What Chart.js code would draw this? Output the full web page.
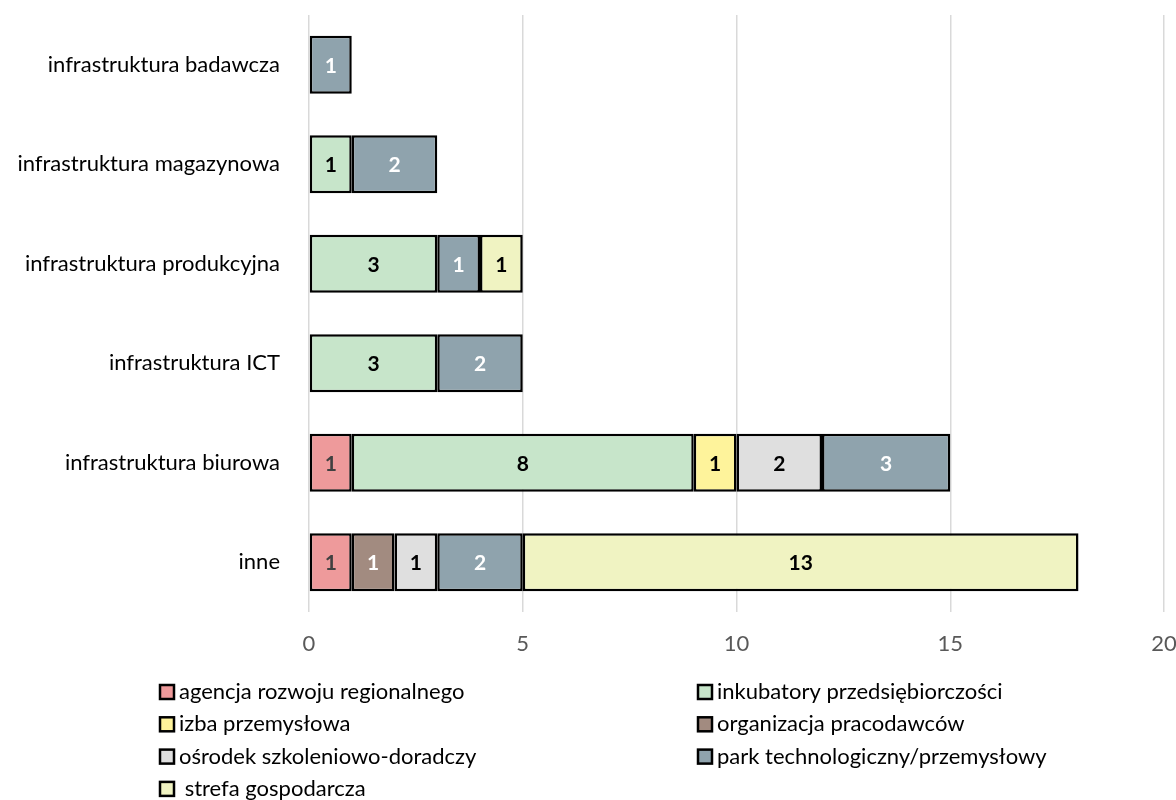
<!DOCTYPE html>
<html>
<head>
<meta charset="utf-8">
<script src="https://cdn.jsdelivr.net/npm/chart.js@4.4.1/dist/chart.umd.min.js"></script>
<style>
  html, body { margin: 0; padding: 0; background: #fff; }
  #wrap { width: 1176px; height: 800px; position: relative; }
</style>
</head>
<body>
<div id="wrap"><canvas id="chart"></canvas></div>
<script>
// categories, top to bottom
const categories = [
    'infrastruktura badawcza',
    'infrastruktura magazynowa',
    'infrastruktura produkcyjna',
    'infrastruktura ICT',
    'infrastruktura biurowa',
    'inne'
];

// series values (null = no segment)
const agencjaRozwoju   = [null, null, null, null, 1, 1];
const inkubatory       = [null, 1, 3, 3, 8, null];
const izbaPrzemyslowa  = [null, null, null, null, 1, null];
const orgPracodawcow   = [null, null, null, null, null, 1];
const osrodekSzkol     = [null, null, null, null, 2, 1];
const parkTechnolog    = [1, 2, 1, 2, 3, 2];
const strefaGosp       = [null, null, 1, null, null, 13];

const xTicks = [0, 5, 10, 15, 20];

const FONT = 'Lato';
const FONT_SIZE = 22;

const series = [
    { label: 'agencja rozwoju regionalnego',     data: agencjaRozwoju,  color: '#EE9A9B', text: '#404040' },
    { label: 'inkubatory przedsiębiorczości',    data: inkubatory,      color: '#C7E5CA', text: '#000000' },
    { label: 'izba przemysłowa',                 data: izbaPrzemyslowa, color: '#FEF39B', text: '#000000' },
    { label: 'organizacja pracodawców',          data: orgPracodawcow,  color: '#A28B80', text: '#ffffff' },
    { label: 'ośrodek szkoleniowo-doradczy',     data: osrodekSzkol,    color: '#DFDFDF', text: '#000000' },
    { label: 'park technologiczny/przemysłowy',  data: parkTechnolog,   color: '#8FA3AD', text: '#ffffff' },
    { label: ' strefa gospodarcza',              data: strefaGosp,      color: '#F0F3C2', text: '#000000' }
];

// value labels in the middle of each segment
const segmentLabels = {
    id: 'segmentLabels',
    afterDatasetsDraw(chart) {
        const ctx = chart.ctx;
        ctx.save();
        ctx.font = 'bold 21px ' + FONT;
        ctx.textAlign = 'center';
        ctx.textBaseline = 'middle';
        chart.data.datasets.forEach((ds, i) => {
            chart.getDatasetMeta(i).data.forEach((bar, j) => {
                const v = ds.data[j];
                if (v == null) return;
                const p = bar.getProps(['x', 'y', 'base'], true);
                ctx.fillStyle = series[i].text;
                ctx.fillText(String(v), (p.x + p.base) / 2, p.y + 1);
            });
        });
        ctx.restore();
    }
};

// two-column legend under the plot
const columnLegend = {
    id: 'columnLegend',
    afterDraw(chart) {
        const ctx = chart.ctx;
        ctx.save();
        ctx.font = FONT_SIZE + 'px ' + FONT;
        ctx.textBaseline = 'middle';
        ctx.textAlign = 'left';
        const colX = [160, 698];
        const rowY0 = 692, rowH = 32.3;
        series.forEach((s, i) => {
            const x = colX[i % 2];
            const y = rowY0 + Math.floor(i / 2) * rowH;
            ctx.fillStyle = s.color;
            ctx.fillRect(x, y - 7, 14, 14);
            ctx.lineWidth = 2.5;
            ctx.strokeStyle = '#000';
            ctx.strokeRect(x, y - 7, 14, 14);
            ctx.fillStyle = '#000';
            ctx.fillText(s.label, x + 19, y);
        });
        ctx.restore();
    }
};

new Chart(document.getElementById('chart'), {
    type: 'bar',
    data: {
        labels: categories,
        datasets: series.map(s => ({
            label: s.label,
            data: s.data,
            backgroundColor: s.color,
            borderColor: '#000000',
            borderWidth: 2.5,
            borderSkipped: false,
            barPercentage: 0.583,
            categoryPercentage: 1.0
        }))
    },
    options: {
        indexAxis: 'y',
        responsive: true,
        maintainAspectRatio: false,
        animation: false,
        layout: { padding: { top: 15, right: 12, left: 0, bottom: 0 } },
        scales: {
            x: {
                stacked: true,
                min: 0,
                max: 20,
                afterBuildTicks: axis => { axis.ticks = xTicks.map(v => ({ value: v })); },
                afterFit: axis => {
                    axis.height = 800 - 612;
                    axis.paddingLeft = 0;
                    axis.paddingRight = 0;
                },
                grid: { color: '#D9D9D9', lineWidth: 1.5, drawTicks: false },
                border: { display: false },
                ticks: { color: '#595959', font: { family: FONT, size: FONT_SIZE }, padding: 19 }
            },
            y: {
                stacked: true,
                afterFit: axis => {
                    axis.width = 309;
                    axis.paddingTop = 0;
                    axis.paddingBottom = 0;
                },
                grid: { display: false, drawTicks: false },
                border: { display: false },
                ticks: { color: '#000000', font: { family: FONT, size: FONT_SIZE }, padding: 29 }
            }
        },
        plugins: {
            legend: { display: false },
            tooltip: { enabled: false }
        }
    },
    plugins: [segmentLabels, columnLegend]
});
</script>
</body>
</html>
